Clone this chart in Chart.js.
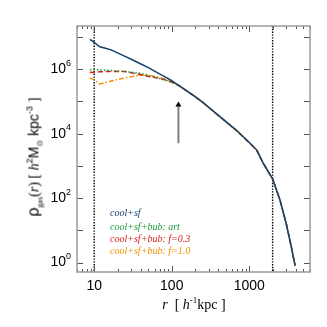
<!DOCTYPE html>
<html><head><meta charset="utf-8">
<script src="https://cdn.jsdelivr.net/npm/chart.js@4/dist/chart.umd.min.js"></script>
<style>
html,body{margin:0;padding:0;background:#fff;}
#wrap{position:relative;width:327px;height:327px;overflow:hidden;}
#c{position:absolute;left:0;top:0;}
.ytitle{position:absolute;left:35px;top:157px;transform:translate(-50%,-50%) rotate(-90deg);white-space:nowrap;font-family:"Liberation Sans",Arial,sans-serif;font-size:14px;color:#000;line-height:20px;}
.xtitle{position:absolute;left:194px;top:305px;transform:translate(-50%,-50%);white-space:nowrap;font-family:"Liberation Serif","Times New Roman",serif;font-size:14px;color:#000;line-height:20px;}
.ser{font-family:"Liberation Serif","Times New Roman",serif;}
.it{font-style:italic;}
.big{font-size:16px;}
.sub{font-size:8px;position:relative;top:4px;}
.sup{font-size:9px;position:relative;top:-6px;}
</style></head>
<body>
<div id="wrap">
<canvas id="c" width="327" height="327"></canvas>
<div class="ytitle"><span class="big">ρ</span><span class="sub ser">gas</span><span class="ser">(<span class="it">r</span>) [ <span class="it">h</span></span><span class="sup">2</span>M<span class="sub">⊙</span> kpc<span class="sup">-3</span> <span class="ser">]</span></div>
<div class="xtitle"><span class="it">r</span>&nbsp; [ <span class="it">h</span><span class="sup">-1</span>kpc ]</div>
</div>
<script>
// ---- data ----
const radius = [8.8, 10, 11.8, 14, 16.5, 20, 25, 30, 40, 50, 65, 80, 100, 120, 150, 200, 250, 300, 400, 500, 700, 1000, 1250, 1500, 1750, 2000, 2500, 3000, 3500, 3900];
const rhoCoolSf = [8.5e6, 6.8e6, 5.0e6, 4.5e6, 4.0e6, 3.23e6, 2.51e6, 2.04e6, 1.46e6, 1.13e6, 7.9e5, 6.0e5, 4.4e5, 3.3e5, 2.29e5, 1.42e5, 9.5e4, 6.6e4, 3.7e4, 2.37e4, 1.21e4, 5.3e3, 3.1e3, 1.26e3, 680, 400, 85, 16, 2.9, 0.8];
const rhoBubArt = [9.5e5, 9.8e5, 9.5e5, 9.3e5, 9.1e5, 8.9e5, 8.5e5, 8.1e5, 7.5e5, 6.5e5, 5.4e5, 4.7e5, 3.9e5, 3.24e5, 2.27e5, 1.41e5, 9.4e4, 6.5e4, 3.65e4, 2.35e4, 1.2e4, 5.25e3, 3.05e3, 1.25e3, 670, 395, 84, 16, 2.9, 0.8];
const rhoBubF03 = [7.9e5, 8.1e5, 8.3e5, 8.5e5, 8.5e5, 8.5e5, 8.5e5, 7.8e5, 6.8e5, 6.0e5, 5.4e5, 4.8e5, 4.0e5, 3.24e5, 2.27e5, 1.41e5, 9.4e4, 6.5e4, 3.65e4, 2.35e4, 1.2e4, 5.25e3, 3.05e3, 1.25e3, 670, 395, 84, 16, 2.9, 0.8];
const rhoBubF10 = [5.4e5, 4.6e5, 3.5e5, 3.9e5, 4.3e5, 4.8e5, 5.4e5, 5.9e5, 6.5e5, 6.5e5, 5.75e5, 5.0e5, 4.0e5, 3.24e5, 2.27e5, 1.41e5, 9.4e4, 6.5e4, 3.65e4, 2.35e4, 1.2e4, 5.25e3, 3.05e3, 1.25e3, 670, 395, 84, 16, 2.9, 0.8];
const seriesNames = ["cool+sf", "cool+sf+bub: art", "cool+sf+bub: f=0.3", "cool+sf+bub: f=1.0"];
const xTickValues = [10, 100, 1000];
const xTickLabels = ["10", "100", "1000"];
const yTickValues = [1, 10, 100, 1e3, 1e4, 1e5, 1e6, 1e7];
const yTickBases = ["10", "", "10", "", "10", "", "10", ""];
const yTickExponents = ["0", "", "2", "", "4", "", "6", ""];
const markerRadii = [10, 2000];
const arrowR = 122, arrowFrom = 5.1e3, arrowTo = 9.9e4;

// ---- styles ----
const colors = ["#17406e", "#1a9a3c", "#d81e1e", "#f39100"];
const dashes = [[], [1.5, 2], [5, 3], [5, 2, 1.5, 2]];
const SANS = '"Liberation Sans", Arial, sans-serif';

const datasets = [rhoCoolSf, rhoBubArt, rhoBubF03, rhoBubF10].map((vals, i) => ({
  label: seriesNames[i],
  data: radius.map((r, k) => ({x: r, y: vals[k]})),
  borderColor: colors[i],
  borderWidth: 1.5,
  borderDash: dashes[i],
  pointRadius: 0,
  showLine: true,
  fill: false,
  tension: 0
}));

const decor = {
  id: 'decor',
  beforeDatasetsDraw(chart) {
    const {ctx, chartArea: a, scales: {x, y}} = chart;
    ctx.save();
    ctx.strokeStyle = '#000';
    ctx.lineWidth = 1.4;
    ctx.setLineDash([1.4, 1.4]);
    markerRadii.forEach(v => {
      const px = x.getPixelForValue(v);
      ctx.beginPath(); ctx.moveTo(px, a.top); ctx.lineTo(px, a.bottom); ctx.stroke();
    });
    ctx.setLineDash([]);
    // arrow
    const ax = x.getPixelForValue(arrowR);
    const y0 = y.getPixelForValue(arrowFrom), y1 = y.getPixelForValue(arrowTo);
    ctx.strokeStyle = '#808080'; ctx.lineWidth = 2;
    ctx.beginPath(); ctx.moveTo(ax, y0); ctx.lineTo(ax, y1 + 4); ctx.stroke();
    ctx.fillStyle = '#000';
    ctx.beginPath(); ctx.moveTo(ax, y1); ctx.lineTo(ax - 3, y1 + 5); ctx.lineTo(ax + 3, y1 + 5); ctx.closePath(); ctx.fill();
    ctx.restore();
  },
  afterDraw(chart) {
    const {ctx, chartArea: a, scales: {x, y}} = chart;
    ctx.save();
    // y tick exponents next to the library's tick labels
    ctx.font = '9px ' + SANS;
    ctx.fillStyle = '#000';
    ctx.textBaseline = 'middle';
    ctx.textAlign = 'left';
    yTickValues.forEach((v, i) => {
      if (!yTickExponents[i]) return;
      const py = y.getPixelForValue(v);
      ctx.fillText(yTickExponents[i], a.left - 11, py - 6);
    });
    // legend texts
    ctx.font = 'italic 10px "Liberation Serif", "Times New Roman", serif';
    const ly = [213, 227, 239, 251];
    seriesNames.forEach((s, i) => { ctx.fillStyle = colors[i]; ctx.fillText(s, 110, ly[i]); });
    // ticks
    ctx.strokeStyle = '#555'; ctx.lineWidth = 1;
    const minX = x.min, maxX = x.max;
    for (let e = 0; e <= 4; e++) {
      for (let k = 1; k <= 9; k++) {
        const v = k * Math.pow(10, e);
        if (v < minX || v > maxX) continue;
        const px = Math.round(x.getPixelForValue(v)) + 0.5;
        const len = k === 1 ? 6 : 3;
        ctx.beginPath();
        ctx.moveTo(px, a.bottom); ctx.lineTo(px, a.bottom - len);
        ctx.moveTo(px, a.top); ctx.lineTo(px, a.top + len);
        ctx.stroke();
      }
    }
    yTickValues.forEach(v => {
      const py = Math.round(y.getPixelForValue(v)) + 0.5;
      ctx.beginPath();
      ctx.moveTo(a.left, py); ctx.lineTo(a.left + 6, py);
      ctx.moveTo(a.right, py); ctx.lineTo(a.right - 6, py);
      ctx.stroke();
    });
    // frame
    ctx.strokeStyle = '#9a9a9a'; ctx.lineWidth = 1.5;
    ctx.strokeRect(a.left, a.top, a.right - a.left, a.bottom - a.top);
    ctx.restore();
  }
};

new Chart(document.getElementById('c'), {
  type: 'scatter',
  data: {datasets},
  options: {
    responsive: false,
    animation: false,
    layout: {padding: {top: 26, right: 17, left: 0, bottom: 0}},
    plugins: {legend: {display: false}, tooltip: {enabled: false}},
    scales: {
      x: {
        type: 'logarithmic', min: 6, max: 6070,
        grid: {display: false, drawTicks: false}, border: {display: false},
        afterBuildTicks: s => { s.ticks = xTickValues.map(v => ({value: v})); },
        afterFit: s => { s.height = 55; },
        ticks: {
          padding: 6, color: '#000', maxRotation: 0, autoSkip: false,
          font: {family: SANS, size: 14},
          callback: v => { const i = xTickValues.indexOf(v); return i >= 0 ? xTickLabels[i] : ''; }
        }
      },
      y: {
        type: 'logarithmic', min: 0.51, max: 2.2e7,
        grid: {display: false, drawTicks: false}, border: {display: false},
        afterBuildTicks: s => { s.ticks = yTickValues.map(v => ({value: v})); },
        afterFit: s => { s.width = 77; },
        ticks: {
          padding: 11, color: '#000', autoSkip: false,
          font: {family: SANS, size: 14},
          callback: v => { const i = yTickValues.indexOf(v); return i >= 0 ? yTickBases[i] : ''; }
        }
      }
    }
  },
  plugins: [decor]
});
</script>
</body></html>
